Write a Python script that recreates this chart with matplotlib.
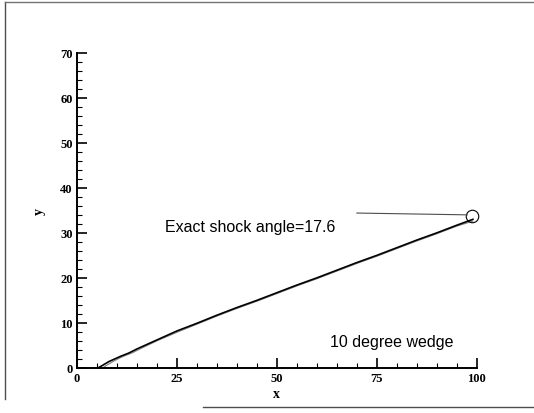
import numpy as np
import matplotlib.pyplot as plt
from matplotlib.lines import Line2D

# shock location
x_shock = [5.3, 6.5, 8, 9.5, 11, 13, 15, 20, 25, 30, 35, 40, 45, 50, 55, 60,
           65, 70, 75, 80, 85, 90, 95, 99]
y_shock = [0.0, 0.6, 1.4, 2.0, 2.6, 3.3, 4.2, 6.2, 8.2, 9.9, 11.7, 13.4, 15.0,
           16.7, 18.4, 20.0, 21.7, 23.4, 25.0, 26.7, 28.4, 30.0, 31.7, 33.0]
x_shock2 = [6.5, 7.5, 9, 10.5, 12, 14, 16, 20, 25, 30, 35, 40, 45, 50, 55, 60,
            65, 70, 75, 80, 85, 90, 95, 99]
y_shock2 = [0.0, 0.6, 1.4, 2.1, 2.7, 3.4, 4.3, 6.0, 7.9, 9.7, 11.5, 13.2, 14.8,
            16.5, 18.2, 19.8, 21.5, 23.2, 24.8, 26.5, 28.2, 29.8, 31.5, 32.6]
x_marker = [98.8]
y_marker = [33.8]

xticks = [0, 25, 50, 75, 100]
yticks = [0, 10, 20, 30, 40, 50, 60, 70]

fig = plt.figure(figsize=(5.34, 4.14), dpi=100)
ax = fig.add_axes([0.144, 0.109, 0.749, 0.761])

ax.plot(x_shock2, y_shock2, color="0.5", lw=0.8)
ax.plot(x_shock, y_shock, color="black", lw=1.2)
ax.plot(x_marker, y_marker, "o", mfc="none", mec="black", ms=9, mew=0.8,
        clip_on=False)
ax.plot([70, 97.6], [34.4, 34.0], color="0.3", lw=0.8, clip_on=False)

ax.text(22, 31.3, "Exact shock angle=17.6", fontsize=11.5,
        family="Liberation Sans", va="center")
ax.text(63.2, 5.8, "10 degree wedge", fontsize=11.5, family="Liberation Sans",
        va="center")

ax.set_xlim(0, 100)
ax.set_ylim(0, 70)
ax.set_xticks(xticks)
ax.set_yticks(yticks)
ax.set_xticks(np.arange(0, 101, 5), minor=True)
ax.set_yticks(np.arange(0, 71, 2), minor=True)
ax.tick_params(direction="in", length=7, width=1.2, labelsize=9, pad=3)
ax.tick_params(which="minor", direction="in", length=3.5, width=0.8)
for lab in ax.get_xticklabels() + ax.get_yticklabels():
    lab.set_family("Liberation Serif")
    lab.set_fontweight("bold")

ax.set_xlabel("x", family="Liberation Serif", fontweight="bold", fontsize=10,
              labelpad=2)
ax.text(-0.095, 34.9, "y", transform=ax.get_yaxis_transform(), rotation=90,
        family="Liberation Serif", fontweight="bold", fontsize=10,
        ha="center", va="center")
ax.spines["top"].set_visible(False)
ax.spines["right"].set_visible(False)
ax.spines["left"].set_linewidth(1.4)
ax.spines["bottom"].set_linewidth(1.4)

# scanned page frame
for xs, ys, c in [([0.01, 0.01], [0.035, 0.993], "0.3"),
                  ([0.01, 1.0], [0.993, 0.993], "0.45"),
                  ([0.38, 1.0], [0.014, 0.014], "0.3")]:
    fig.add_artist(Line2D(xs, ys, transform=fig.transFigure, color=c, lw=1.0))

fig.savefig("out.png", dpi=100)
